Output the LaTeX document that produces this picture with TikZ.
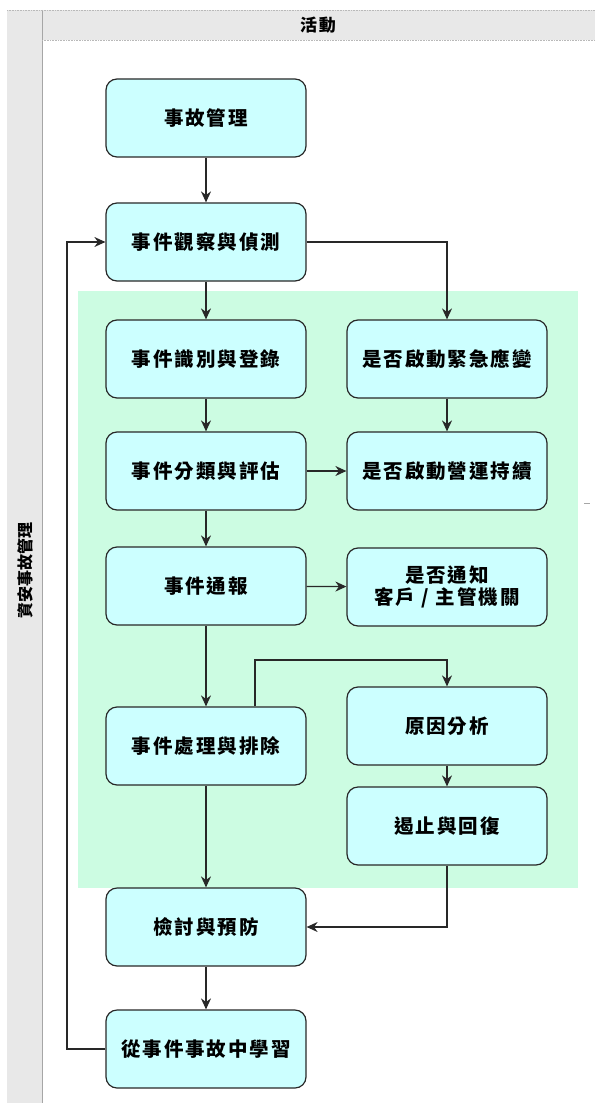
\documentclass[tikz,border=0pt]{standalone}
\usepackage{fontspec}
\newfontfamily\cjk{Noto Sans CJK TC}[LetterSpace=10]
\newfontfamily\cjklane{Noto Sans CJK TC}
\usetikzlibrary{arrows.meta}
\definecolor{boxfill}{RGB}{204,255,255}
\definecolor{zone}{RGB}{204,252,226}
\definecolor{lanegray}{RGB}{232,232,232}
\definecolor{edge}{RGB}{40,40,40}
\begin{document}
\begin{tikzpicture}[x=1pt,y=-1pt,
  stepbox/.style={draw=edge, line width=1.2pt, fill=boxfill, rounded corners=11pt,
    minimum width=200pt, minimum height=78pt, align=center, inner sep=0pt,
    font=\cjk\bfseries\fontsize{19.5}{22}\selectfont},
  flow/.style={draw=edge, line width=1.3pt, -{Stealth[length=11pt,width=10pt]}},
  lanetext/.style={font=\cjklane\bfseries\fontsize{16}{18}\selectfont, inner sep=0pt}
]
\useasboundingbox (0,0) rectangle (595,1107);
% swimlane frame
\fill[lanegray] (7,10) rectangle (595,40);
\fill[lanegray] (7,10) rectangle (42,1103);
\draw[gray!70, line width=0.8pt] (42,10) -- (42,1103);
\draw[gray!55, densely dotted, line width=0.6pt] (42,40) -- (595,40);
\draw[gray!55, densely dotted, line width=0.6pt] (7,10) -- (595,10);
\node[lanetext, font=\cjk\bfseries\fontsize{17}{18}\selectfont] (hdr) at (318,25) {活動};
\node[lanetext, rotate=90] (lane) at (25,570) {資安事故管理};
% green zone
\fill[zone] (78,291) rectangle (578,888);
\draw[gray!70, line width=0.7pt] (584,503) -- (590,503);
% boxes
\node[stepbox] (a) at (206,118) {事故管理};
\node[stepbox] (b) at (206,242) {事件觀察與偵測};
\node[stepbox] (c) at (206,359) {事件識別與登錄};
\node[stepbox] (d) at (206,471) {事件分類與評估};
\node[stepbox] (e) at (206,586) {事件通報};
\node[stepbox] (f) at (206,746) {事件處理與排除};
\node[stepbox] (g) at (206,927) {檢討與預防};
\node[stepbox] (h) at (206,1049) {從事件事故中學習};
\node[stepbox] (p) at (447,359) {是否啟動緊急應變};
\node[stepbox] (q) at (447,471) {是否啟動營運持續};
\node[stepbox] (r) at (447,587) {是否通知\\客戶 / 主管機關};
\node[stepbox] (s) at (447,726) {原因分析};
\node[stepbox] (t) at (447,826) {遏止與回復};
% connectors
\draw[flow] (a) -- (b);
\draw[flow] (b) -- (c);
\draw[flow] (b.east) -| (p.north);
\draw[flow] (c) -- (d);
\draw[flow] (p) -- (q);
\draw[flow] (d) -- (q);
\draw[flow] (d) -- (e);
\draw[flow] (e) -- (r);
\draw[flow] (e) -- (f);
\coordinate (fk) at (447,660);
\draw[flow] ([xshift=49pt]f.north) |- (fk) -- (s.north);
\draw[flow] (s) -- (t);
\draw[flow] (t.south) |- (g.east);
\draw[flow] (f) -- (g);
\draw[flow] (g) -- (h);
\coordinate (loopB) at (67,1049);
\coordinate (loopT) at (67,242);
\draw[flow] (h.west) -- (loopB) -- (loopT) -- (b.west);
\end{tikzpicture}
\end{document}
